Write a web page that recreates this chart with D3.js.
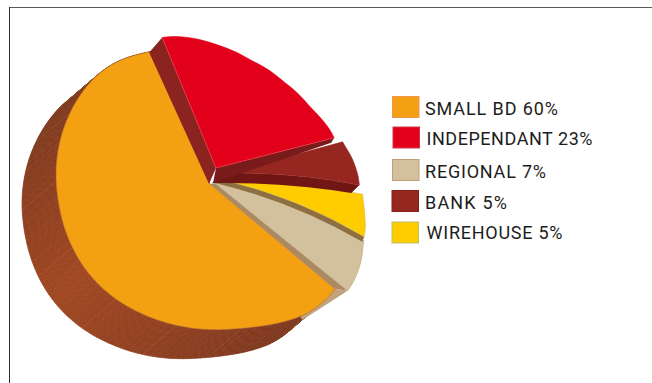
<!DOCTYPE html>
<html>
<head>
<meta charset="utf-8">
<script src="https://cdn.jsdelivr.net/npm/d3@7"></script>
<style>
html,body{margin:0;padding:0;background:#fff;overflow:hidden}
svg{display:block}
text{font-family:Roboto,sans-serif;fill:#1d1d1b;font-weight:400}
</style>
</head>
<body>
<svg id="chart" width="652" height="383"></svg>
<script>
// Market share by channel
const categories = ["SMALL BD", "INDEPENDANT", "REGIONAL", "BANK", "WIREHOUSE"];
const shares = [60, 23, 7, 5, 5];
const sliceColors = ["#f3a112", "#e2001a", "#d3c19d", "#962620", "#ffcc00"];
const rimStrokes = ["#b5692a", "#e2001a", "#bda57f", "#962620", "#d9b84a"];
const swatchStrokes = ["#ee9550", "#d0384a", "#bfa077", "#86201c", "#b9c06a"];

// Clockwise order of the slices, starting at the upper-left cut
const clockwise = [1, 3, 4, 2, 0];

// Slice geometry on the tilted disc: hub, rim bearings (degrees) and rim radii
const hubs = [[210, 184], [216, 168], [215, 183], [228, 173], [223, 180]];
const rimBearings = [
  [130, 138.2, 148, 158, 166, 173.3, 189.1, 205.7, 221.5, 235, 263.9, 275, 290, 304.4, 315.5, 326.8, 337.4],
  [-22.4, -14.1, 0.5, 17.5, 37.9, 57.4, 75.7],
  [111.1, 115.9, 122.8, 129.1],
  [74.8, 83.1, 95.2],
  [95.8, 103.8, 111.9]
];
const rimRadii = [
  [163, 164.5, 159, 152, 148, 146, 145, 146, 149, 151, 152.5, 154.6, 156.6, 157.5, 157, 151.7, 143],
  [142, 135.1, 123, 113.2, 109.5, 112, 122.5],
  [158.6, 164, 169, 171.3],
  [118, 125, 132.5],
  [139.7, 146, 153]
];
// Half-width in degrees of the rim smoothing for each slice
const rimSmoothing = [6, 3, 3, 3, 3];
// How far each slice's radial edges bow towards the upper right, in pixels
const openingBow = [0, 0, 7, 0, 3];
const closingBow = [0, 0, 0, 3.5, 6];

// Extrusion of the large slice
const depth = [-34, 29];
const wallBearings = [130, 170, 235, 300, 337.4];
const wallColors = ["#74311a", "#84391d", "#a04722", "#7c361b", "#7c361b"];

const rad = Math.PI / 180;
const svg = d3.select("#chart");

// Frame along the top and left edges
svg.append("line").attr("x1", 9).attr("y1", 7.5).attr("x2", 652).attr("y2", 7.5)
  .attr("stroke", "#5a5a5a").attr("stroke-width", 1);
svg.append("line").attr("x1", 9.5).attr("y1", 7).attr("x2", 9.5).attr("y2", 383)
  .attr("stroke", "#2e2e2e").attr("stroke-width", 1);

const pie = d3.pie()
  .value(i => shares[i])
  .sort((a, b) => clockwise.indexOf(a) - clockwise.indexOf(b));
const arcs = pie(d3.range(categories.length));
const arcOf = i => arcs.find(a => a.data === i);

// Turns a pie angle into a bearing and radius on the slice's own rim
function rimProjection(i) {
  const a = arcOf(i);
  const b = rimBearings[i];
  const bearing = d3.scaleLinear([a.startAngle, a.endAngle], [b[0], b[b.length - 1]]);
  const radius = d3.scaleLinear(b, rimRadii[i]).clamp(true);
  const w = rimSmoothing[i];
  const window = [-w, -w / 2, 0, w / 2, w];
  return angle => {
    const deg = bearing(angle);
    const smooth = d3.mean(window, t => radius(deg + t));
    return { deg, angle: deg * rad, radius: smooth };
  };
}
function rimSamples(i, stepDeg) {
  const a = arcOf(i);
  const n = Math.max(2, Math.ceil((a.endAngle - a.startAngle) / (stepDeg * rad)));
  const project = rimProjection(i);
  return d3.range(n + 1).map(k => project(a.startAngle + (a.endAngle - a.startAngle) * k / n));
}
function rimPoint(p, i) {
  return [hubs[i][0] + p.radius * Math.sin(p.angle), hubs[i][1] - p.radius * Math.cos(p.angle)];
}
function corners(i) {
  const s = rimSamples(i, 45);
  return [rimPoint(s[0], i), rimPoint(s[s.length - 1], i)];
}

const rimLine = d3.lineRadial().angle(p => p.angle).radius(p => p.radius).curve(d3.curveCatmullRom);

// Control point of a radial edge from the hub (0,0) to (x,y), bowed to the edge's upper right
function bowControl(x, y, bow) {
  const len = Math.hypot(x, y);
  return [x / 2 + bow * 2 * y / len, y / 2 - bow * 2 * x / len];
}

function slicePath(i) {
  const samples = rimSamples(i, 4);
  const rim = rimLine(samples);
  const first = samples[0], end = samples[samples.length - 1];
  const sx = first.radius * Math.sin(first.angle), sy = -first.radius * Math.cos(first.angle);
  const ex = end.radius * Math.sin(end.angle), ey = -end.radius * Math.cos(end.angle);
  const open = bowControl(sx, sy, openingBow[i]);
  const close = bowControl(ex, ey, closingBow[i]);
  return `M0,0Q${open[0]},${open[1]} ${sx},${sy}L` + rim.slice(1) + `Q${close[0]},${close[1]} 0,0Z`;
}

function polygon(points, fill) {
  return svg.append("path").attr("d", d3.line()(points) + "Z").attr("fill", fill);
}
const shift = (p, o) => [p[0] + o[0], p[1] + o[1]];

// Outer wall of the large slice, built from short strips around the rim
const wallColor = d3.scaleLinear(wallBearings, wallColors);
const wallRim = rimSamples(0, 1);
d3.pairs(wallRim).forEach(([p, q]) => {
  const a = rimPoint(p, 0), b = rimPoint(q, 0);
  const c = wallColor((p.deg + q.deg) / 2);
  polygon([a, b, shift(b, depth), shift(a, depth)], c).attr("stroke", c).attr("stroke-width", 0.7);
});
wallRim.filter((p, k) => k % 3 === 0).forEach((p, k) => {
  const a = rimPoint(p, 0), b = shift(a, depth);
  svg.append("line").attr("x1", a[0]).attr("y1", a[1]).attr("x2", b[0]).attr("y2", b[1])
    .attr("stroke", "#d98f4c").attr("stroke-width", 0.5).attr("stroke-opacity", k % 9 === 4 ? 0.45 : 0.18);
});

// Small strip of the regional slice showing below the large slice's corner
polygon([
  corners(2)[1],
  shift(corners(2)[1], [-45, 29]),
  shift(corners(0)[0], [-35, 28]),
  corners(0)[0]
], "#c2a27c");

function drawSlice(i) {
  svg.append("path")
    .attr("transform", `translate(${hubs[i]})`)
    .attr("d", slicePath(i))
    .attr("fill", sliceColors[i])
    .attr("stroke", rimStrokes[i])
    .attr("stroke-width", 0.6);
}
// Thickness below one radial edge of a slice; the edge keeps the slice's own bow
function edgeWall(i, corner, cornerOffset, hubOffset, fill, edgeBow, lowerBow) {
  const hub = hubs[i];
  const path = d3.path();
  path.moveTo(hub[0], hub[1]);
  const ctrl = bowControl(corner[0] - hub[0], corner[1] - hub[1], edgeBow || 0);
  path.quadraticCurveTo(hub[0] + ctrl[0], hub[1] + ctrl[1], corner[0], corner[1]);
  const c2 = shift(corner, cornerOffset), h2 = shift(hub, hubOffset);
  path.lineTo(c2[0], c2[1]);
  if (lowerBow) {
    const mx = (c2[0] + h2[0]) / 2, my = (c2[1] + h2[1]) / 2;
    path.quadraticCurveTo(mx + lowerBow[0], my + lowerBow[1], h2[0], h2[1]);
  } else {
    path.lineTo(h2[0], h2[1]);
  }
  path.closePath();
  svg.append("path").attr("d", path.toString()).attr("fill", fill);
}

drawSlice(0);
edgeWall(2, corners(2)[1], [-13, -2], [-5, 1], "#ab8a62");
drawSlice(2);
edgeWall(4, corners(4)[1], [-2, 5], [-8, 3], "#8d6f42", closingBow[4], [4, -11]);
drawSlice(4);
edgeWall(3, corners(3)[1], [-8, 8], [-16, 10], "#701615", closingBow[3], [1, -6]);
drawSlice(3);
edgeWall(1, corners(1)[0], [-13, 15], [-7, 16], "#8b2320");
edgeWall(1, corners(1)[1], [-3, 5], [-3, 15], "#791a1b");
drawSlice(1);

// Faint highlight on the cut edges of the red slice
corners(1).forEach(c => {
  svg.append("line")
    .attr("x1", hubs[1][0]).attr("y1", hubs[1][1]).attr("x2", c[0]).attr("y2", c[1])
    .attr("stroke", "#f4808a").attr("stroke-width", 0.6).attr("stroke-opacity", 0.55);
});

// Legend, listed by share
const legendX = [392.5, 393, 392.5, 392, 392];
const legendY = [96.5, 127, 159.5, 190.5, 222];
const labelX = [425, 426.5, 425, 425, 426.5];
const labelY = [115, 145, 177.5, 209, 239];
const labelWidths = [133, 166, 121, 82, 136];
const legend = svg.append("g");
categories.forEach((name, i) => {
  legend.append("rect")
    .attr("x", legendX[i]).attr("y", legendY[i]).attr("width", 26.5).attr("height", 21)
    .attr("fill", sliceColors[i]).attr("stroke", swatchStrokes[i]).attr("stroke-width", 1);
  legend.append("text")
    .attr("x", labelX[i]).attr("y", labelY[i])
    .attr("font-size", 18)
    .attr("textLength", labelWidths[i]).attr("lengthAdjust", "spacing")
    .text(`${name} ${shares[i]}%`);
});
</script>
</body>
</html>
